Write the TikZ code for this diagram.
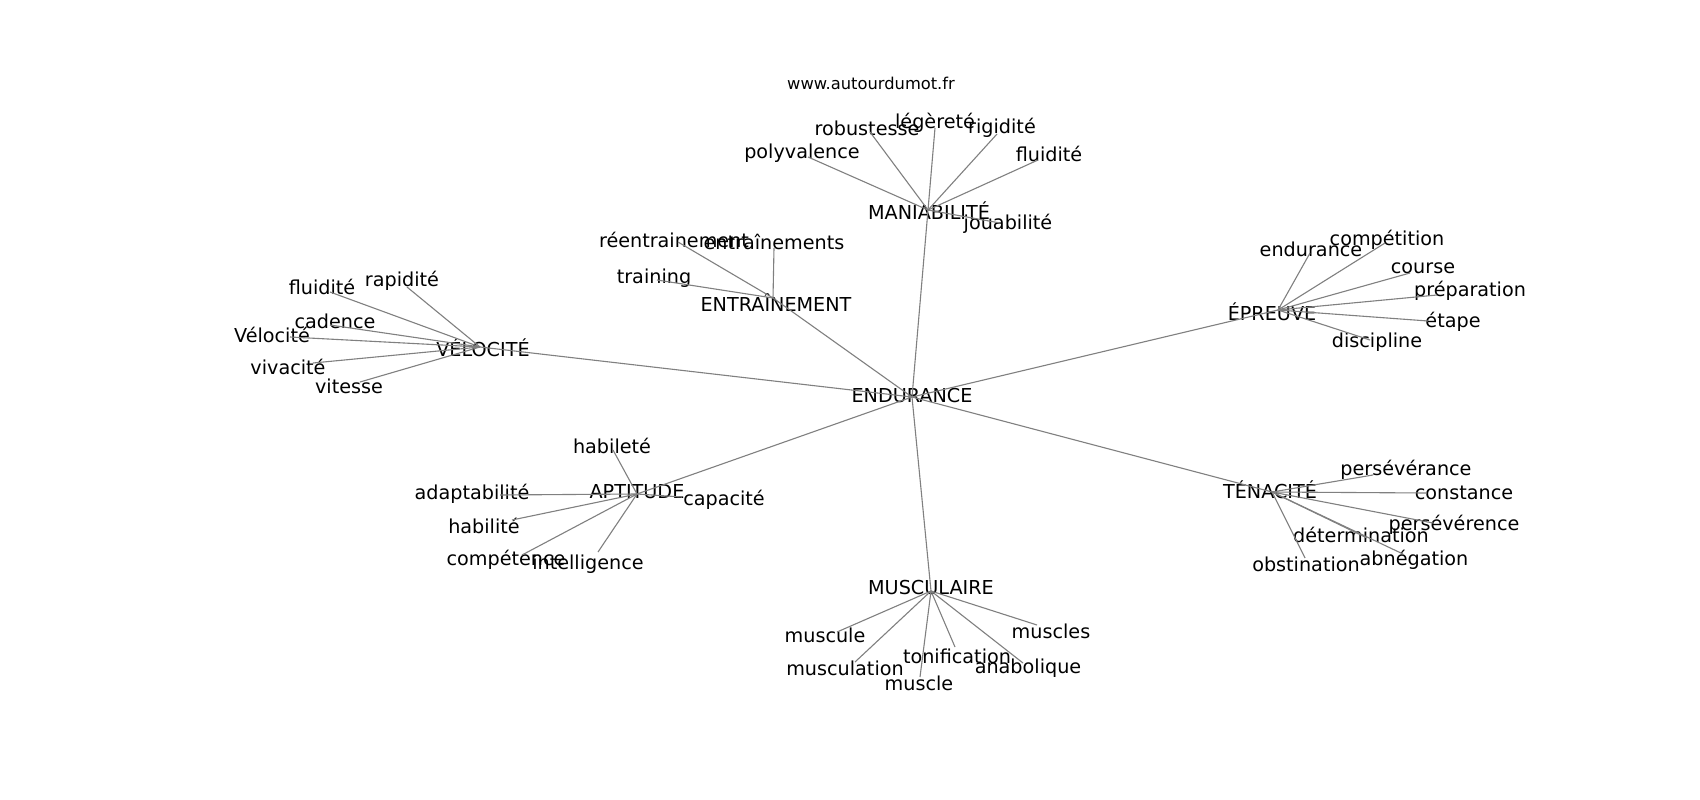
\documentclass[tikz,border=0pt]{standalone}
\usepackage{fontspec}
\setmainfont{DejaVu Sans}
\begin{document}
\begin{tikzpicture}[x=1pt,y=-1pt,
  lbl/.style={inner sep=0pt,anchor=center,font=\fontsize{19.2}{23}\selectfont},
  ttl/.style={inner sep=0pt,anchor=center,font=\fontsize{16.3}{20}\selectfont},
  edge/.style={draw=black!50,line width=1.1pt}]
\fill[white] (0,0) rectangle (1700,800);
\useasboundingbox (0,0) rectangle (1700,800);
\newcommand{\wordat}[6]{\coordinate (#1-p) at (#4,#5);\node[lbl] (#1) at (#2,#3) {#6};}
% title
\node[ttl] (title) at (871,83) {www.autourdumot.fr};
% hubs
\wordat{E}{912}{396}{912}{397}{ENDURANCE}
\wordat{MAN}{929}{211}{928}{210}{MANIABILITÉ}
\wordat{ENT}{776}{303}{773}{298}{ENTRAÎNEMENT}
\wordat{VEL}{483}{348}{480}{347}{VÉLOCITÉ}
\wordat{EPR}{1272}{312}{1278}{310}{ÉPREUVE}
\wordat{TEN}{1270}{490}{1272}{492}{TÉNACITÉ}
\wordat{APT}{637}{492}{637}{494}{APTITUDE}
\wordat{MUS}{931}{588}{931}{591}{MUSCULAIRE}
% maniabilite
\wordat{rob}{867}{128}{870}{132}{robustesse}
\wordat{leg}{935}{123}{935}{128}{légèreté}
\wordat{rig}{1002}{128}{997}{134}{rigidité}
\wordat{pol}{802}{153}{808}{157}{polyvalence}
\wordat{flu}{1049}{154}{1038}{160}{fluidité}
\wordat{jou}{1008}{224}{1000}{223}{jouabilité}
% entrainement
\wordat{ree}{674}{240}{678}{242}{réentrainement}
\wordat{ents}{774}{242}{774}{248}{entraînements}
\wordat{tra}{654}{278}{657}{280}{training}
% velocite
\wordat{fluv}{322}{287}{330}{292}{fluidité}
\wordat{rap}{402}{281}{407}{287}{rapidité}
\wordat{cad}{335}{321}{330}{325}{cadence}
\wordat{velo}{272}{335}{290}{337}{Vélocité}
\wordat{viv}{288}{367}{313}{363}{vivacité}
\wordat{vit}{349}{386}{360}{382}{vitesse}
% epreuve
\wordat{end}{1311}{249}{1310}{253}{endurance}
\wordat{com}{1387}{240}{1385}{243}{compétition}
\wordat{cou}{1423}{268}{1410}{273}{course}
\wordat{pre}{1470}{291}{1437}{295}{préparation}
\wordat{eta}{1453}{322}{1428}{321}{étape}
\wordat{dis}{1377}{342}{1370}{340}{discipline}
% tenacite
\wordat{pera}{1406}{470}{1373}{475}{persévérance}
\wordat{con}{1464}{493}{1427}{493}{constance}
\wordat{pere}{1454}{525}{1433}{523}{persévérence}
\wordat{det}{1361}{535}{1367}{538}{détermination}
\wordat{abn}{1414}{560}{1403}{554}{abnégation}
\wordat{obs}{1306}{564}{1305}{558}{obstination}
% aptitude
\wordat{habe}{612}{446}{613}{450}{habileté}
\wordat{ada}{472}{494}{500}{495}{adaptabilité}
\wordat{habi}{484}{526}{512}{520}{habilité}
\wordat{cmp}{506}{560}{522}{555}{compétence}
\wordat{int}{588}{564}{598}{552}{intelligence}
\wordat{cap}{724}{500}{682}{497}{capacité}
% musculaire
\wordat{mule}{825}{635}{837}{632}{muscule}
\wordat{mula}{845}{668}{855}{662}{musculation}
\wordat{mus}{919}{683}{920}{677}{muscle}
\wordat{ton}{957}{656}{955}{647}{tonification}
\wordat{ana}{1028}{668}{1023}{663}{anabolique}
\wordat{mss}{1051}{631}{1037}{625}{muscles}
% edges
\foreach \h in {MAN,ENT,VEL,EPR,TEN,APT,MUS} \draw[edge] (E-p) -- (\h-p);
\foreach \l in {rob,leg,rig,pol,flu,jou} \draw[edge] (MAN-p) -- (\l-p);
\foreach \l in {ree,ents,tra} \draw[edge] (ENT-p) -- (\l-p);
\foreach \l in {fluv,rap,cad,velo,viv,vit} \draw[edge] (VEL-p) -- (\l-p);
\foreach \l in {end,com,cou,pre,eta,dis} \draw[edge] (EPR-p) -- (\l-p);
\foreach \l in {pera,con,pere,det,abn,obs} \draw[edge] (TEN-p) -- (\l-p);
\foreach \l in {habe,ada,habi,cmp,int,cap} \draw[edge] (APT-p) -- (\l-p);
\foreach \l in {mule,mula,mus,ton,ana,mss} \draw[edge] (MUS-p) -- (\l-p);
\end{tikzpicture}
\end{document}
